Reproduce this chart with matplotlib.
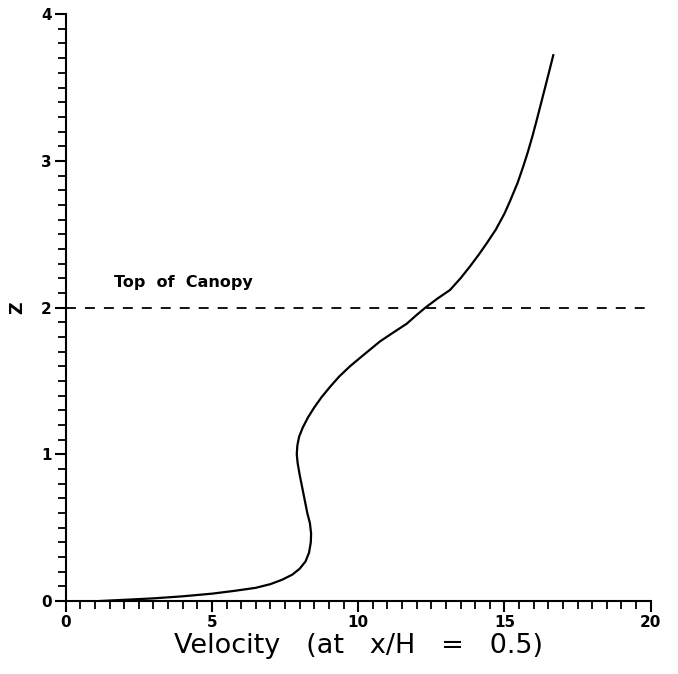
import numpy as np
import matplotlib.pyplot as plt
from matplotlib.ticker import MultipleLocator

# velocity profile at x/H = 0.5
velocity = [1.17, 2.0, 3.0, 4.0, 5.0, 5.8, 6.5, 7.0, 7.4, 7.75, 8.0, 8.2,
            8.32, 8.38, 8.39, 8.35, 8.26, 8.17, 8.08, 8.0, 7.93, 7.9, 7.92,
            7.98, 8.1, 8.28, 8.5, 8.75, 9.04, 9.35, 9.72, 10.2, 10.75, 11.2,
            11.66, 12.0, 12.3, 12.7, 13.14, 13.5, 13.82, 14.12, 14.4, 14.7,
            15.0, 15.2, 15.45, 15.64, 15.8, 15.96, 16.12, 16.3, 16.48, 16.67]
height = [0.0, 0.008, 0.018, 0.032, 0.05, 0.07, 0.09, 0.115, 0.145, 0.18, 0.22,
          0.27, 0.33, 0.40, 0.46, 0.53, 0.60, 0.69, 0.78, 0.86, 0.94, 1.0,
          1.06, 1.12, 1.18, 1.25, 1.32, 1.39, 1.46, 1.53, 1.60, 1.68, 1.77,
          1.83, 1.89, 1.95, 2.0, 2.06, 2.12, 2.2, 2.28, 2.36, 2.44, 2.53,
          2.64, 2.73, 2.85, 2.96, 3.06, 3.17, 3.29, 3.43, 3.57, 3.72]
canopy_top = 2.0

fig = plt.figure(figsize=(6.78, 6.74), dpi=100)
ax = fig.add_axes([0.0969, 0.1083, 0.8628, 0.8707])

ax.plot(velocity, height, color='black', lw=1.6, solid_joinstyle='round')
ax.plot([0, 20], [canopy_top, canopy_top], color='black', lw=1.3,
        dashes=(5.5, 5))
ax.text(1.65, 2.17, 'Top  of  Canopy', fontsize=11.5, fontweight='bold',
        ha='left', va='center')

ax.set_xlim(0, 20)
ax.set_ylim(0, 4)
ax.xaxis.set_major_locator(MultipleLocator(5))
ax.xaxis.set_minor_locator(MultipleLocator(0.5))
ax.yaxis.set_major_locator(MultipleLocator(1))
ax.yaxis.set_minor_locator(MultipleLocator(0.1))

for s in ['top', 'right']:
    ax.spines[s].set_visible(False)
for s in ['left', 'bottom']:
    ax.spines[s].set_linewidth(1.5)

ax.tick_params(which='major', length=8, width=1.5, direction='out',
               labelsize=11, pad=2)
ax.tick_params(which='minor', length=5.5, width=1.3, direction='out')
for lab in ax.get_xticklabels() + ax.get_yticklabels():
    lab.set_fontweight('bold')

ax.set_xlabel('Velocity   (at   x/H   =   0.5)', fontsize=19.5, labelpad=2)
ax.set_ylabel('Z', fontsize=12.5, fontweight='bold', labelpad=2)
ax.yaxis.set_label_coords(-0.068, 0.5)

fig.savefig('out.png', dpi=100)
